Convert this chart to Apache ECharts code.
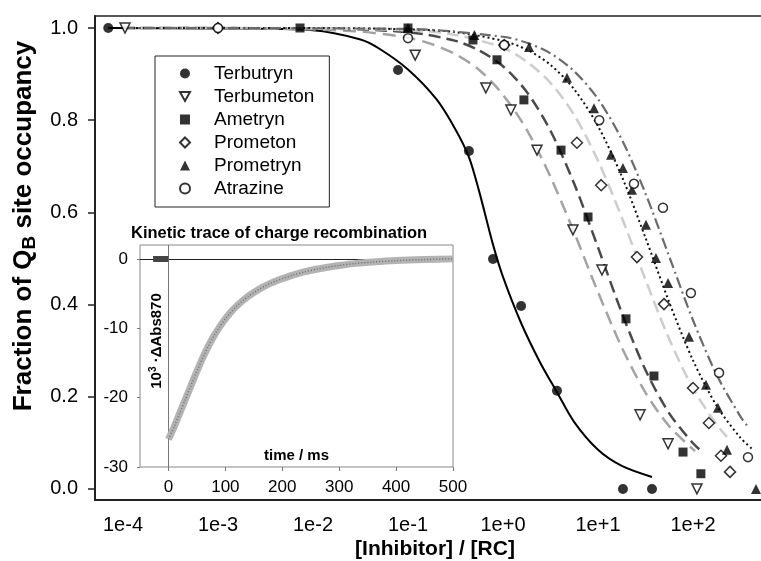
<!DOCTYPE html>
<html>
<head>
<meta charset="utf-8">
<script src="https://cdn.jsdelivr.net/npm/echarts@6/dist/echarts.min.js"></script>
<style>
  html, body { margin: 0; padding: 0; background: #fff; }
  #main { width: 761px; height: 561px; }
</style>
</head>
<body>
<div id="main"></div>
<script>
// measured points: [Inhibitor]/[RC] and fraction of QB site occupancy
var terbutrynConc = [7e-5, 0.0785, 0.438, 0.785, 1.55, 3.7, 18.3, 37];
var terbutrynFrac = [1.0, 0.909, 0.733, 0.499, 0.397, 0.213, 0.0, 0.0];
var terbumetonConc = [1.05e-4, 0.119, 0.66, 1.21, 2.28, 5.45, 11, 27.7, 54.6, 110];
var terbumetonFrac = [1.0, 0.941, 0.87, 0.822, 0.735, 0.562, 0.475, 0.161, 0.098, 0.0];
var ametrynConc = [7.3e-3, 0.1, 0.483, 0.865, 1.66, 4.08, 7.85, 19.7, 38.8, 78.5, 121];
var ametrynFrac = [1.0, 1.0, 0.974, 0.931, 0.844, 0.735, 0.59, 0.369, 0.245, 0.08, 0.033];
var prometonConc = [1e-3, 1.03, 6.0, 10.8, 25.7, 49.5, 100, 147, 197, 245];
var prometonFrac = [1.0, 0.963, 0.751, 0.659, 0.503, 0.401, 0.219, 0.143, 0.072, 0.037];
var prometrynConc = [0.1, 0.5, 1.88, 4.72, 9.08, 13.7, 18.3, 22.8, 32, 40.7, 54.6, 90.8, 137, 183, 228, 460];
var prometrynFrac = [1.0, 0.985, 0.959, 0.892, 0.826, 0.725, 0.696, 0.649, 0.573, 0.501, 0.447, 0.33, 0.226, 0.176, 0.085, 0.0];
var atrazineConc = [1e-3, 0.1, 1.03, 10.3, 23.9, 48.3, 95, 188, 379];
var atrazineFrac = [1.0, 0.978, 0.963, 0.80, 0.662, 0.61, 0.425, 0.252, 0.069];

// fitted curves
var terbutrynFitConc = [7e-5, 1e-3, 1e-2, 0.0316, 0.05, 0.1, 0.2, 0.316, 0.438, 0.562, 0.785, 1, 1.55, 2.45, 3.7, 5.62, 10, 17.8, 37];
var terbutrynFitFrac = [1.0, 0.999, 0.995, 0.975, 0.955, 0.91, 0.845, 0.78, 0.72, 0.645, 0.53, 0.46, 0.36, 0.275, 0.21, 0.145, 0.085, 0.05, 0.026];
var terbumetonFitConc = [1e-4, 1e-3, 1e-2, 0.0316, 0.1, 0.178, 0.316, 0.562, 1, 1.78, 3.16, 5.62, 10, 17.8, 31.6, 56.2, 105];
var terbumetonFitFrac = [1.0, 1.0, 0.997, 0.992, 0.979, 0.965, 0.943, 0.909, 0.855, 0.779, 0.677, 0.556, 0.427, 0.307, 0.209, 0.136, 0.082];
var ametrynFitConc = [1e-4, 1e-2, 0.1, 0.316, 0.562, 1, 1.78, 3.16, 5.62, 10, 17.8, 31.6, 56.2, 100, 118];
var ametrynFitFrac = [1.0, 0.999, 0.991, 0.972, 0.951, 0.917, 0.861, 0.777, 0.662, 0.524, 0.382, 0.258, 0.164, 0.099, 0.085];
var prometonFitConc = [1e-4, 1e-2, 0.1, 0.316, 1, 1.78, 3.16, 5.62, 10, 17.8, 31.6, 56.2, 100, 178, 228];
var prometonFitFrac = [1.0, 0.999, 0.995, 0.985, 0.957, 0.927, 0.881, 0.811, 0.712, 0.589, 0.454, 0.325, 0.218, 0.139, 0.113];
var prometrynFitConc = [1e-4, 1e-2, 0.1, 0.316, 1, 1.78, 3.16, 5.62, 10, 17.8, 31.6, 56.2, 100, 178, 316, 429];
var prometrynFitFrac = [1.0, 1.0, 0.997, 0.991, 0.972, 0.953, 0.920, 0.867, 0.787, 0.678, 0.545, 0.405, 0.279, 0.180, 0.111, 0.085];
var atrazineFitConc = [1e-4, 0.1, 1, 1.78, 3.16, 5.62, 10, 17.8, 31.6, 56.2, 100, 178, 316, 379];
var atrazineFitFrac = [1.0, 0.998, 0.981, 0.968, 0.945, 0.906, 0.846, 0.758, 0.641, 0.504, 0.366, 0.247, 0.157, 0.135];

// inset: kinetic trace (time in ms, 10^3 * dAbs870)
var preTime = [-27, -18, -9, 0];
var preValue = [0, 0, 0, 0];
var traceTime = [0, 10, 20, 30, 40, 50, 60, 70, 80, 90, 100, 110, 120, 130, 140, 150, 160, 170, 180, 190, 200, 220, 240, 260, 280, 300, 330, 360, 400, 450, 500];
var traceValue = [-26, -24.2, -22.2, -20.2, -18.2, -16.2, -14.3, -12.6, -11.1, -9.8, -8.65, -7.65, -6.8, -6.05, -5.4, -4.85, -4.35, -3.9, -3.5, -3.15, -2.85, -2.3, -1.85, -1.5, -1.2, -0.95, -0.65, -0.45, -0.25, -0.1, 0];

var xTicks = [1e-4, 1e-3, 1e-2, 1e-1, 1, 10, 100];
var yTicks = [0, 0.2, 0.4, 0.6, 0.8, 1.0];
var insetXTicks = [0, 100, 200, 300, 400, 500];
var insetYTicks = [-30, -20, -10, 0];

var FONT = 'Liberation Sans, Arial, sans-serif';
var DOWN_TRIANGLE = 'path://M0,0L10,0L5,9Z';

function zip(a, b) {
  var out = [];
  for (var i = 0; i < a.length; i++) out.push([a[i], b[i]]);
  return out;
}

function pointSeries(name, conc, frac, symbol, size, filled, rotate) {
  return {
    name: name,
    type: 'scatter',
    xAxisIndex: 0,
    yAxisIndex: 0,
    symbol: symbol,
    symbolSize: size,
    symbolRotate: rotate || 0,
    z: 5,
    itemStyle: filled
      ? { color: '#000', borderColor: '#000', borderWidth: 0 }
      : { color: '#fff', borderColor: '#000', borderWidth: 1.5 },
    data: zip(conc, frac)
  };
}

function fitSeries(name, conc, frac, color, type, width) {
  return {
    name: name,
    type: 'line',
    xAxisIndex: 0,
    yAxisIndex: 0,
    smooth: 0.3,
    showSymbol: false,
    z: 3,
    lineStyle: { color: color, type: type, width: width },
    data: zip(conc, frac)
  };
}

var chartDom = document.getElementById('main');
var myChart = echarts.init(chartDom);

var option = {
  animation: false,
  backgroundColor: '#fff',
  textStyle: { fontFamily: FONT },
  title: {
    text: 'Kinetic trace of charge recombination',
    left: 131,
    top: 225,
    padding: 0,
    textStyle: { fontFamily: FONT, fontSize: 16.5, fontWeight: 'bold', color: '#000' }
  },
  legend: {
    data: [
      { name: 'Terbutryn', icon: 'circle' },
      { name: 'Terbumeton', icon: DOWN_TRIANGLE },
      { name: 'Ametryn', icon: 'rect' },
      { name: 'Prometon', icon: 'diamond' },
      { name: 'Prometryn', icon: 'triangle' },
      { name: 'Atrazine', icon: 'circle' }
    ],
    orient: 'vertical',
    left: 155,
    top: 56,
    backgroundColor: '#fff',
    borderColor: '#222',
    borderWidth: 1,
    borderRadius: 0,
    padding: [8, 15, 9, 24],
    itemGap: 4,
    itemWidth: 10,
    itemHeight: 10,
    selectedMode: false,
    textStyle: { fontFamily: FONT, fontSize: 19, lineHeight: 19, color: '#000', padding: [0, 0, 0, 19] }
  },
  grid: [
    { left: 95, top: 16, right: -14, bottom: 61, outerBoundsMode: 'none', show: true, borderColor: '#222', borderWidth: 1.5 },
    { left: 140, top: 245, width: 313, height: 222, outerBoundsMode: 'none', show: true, backgroundColor: '#fff', borderColor: '#888', borderWidth: 1, z: 4 }
  ],
  xAxis: [
    {
      type: 'log',
      logBase: 10,
      gridIndex: 0,
      min: 5.074e-5,
      max: 729.5,
      name: '[Inhibitor] / [RC]',
      nameLocation: 'middle',
      nameGap: 39,
      nameMoveOverlap: false,
      nameTextStyle: { fontFamily: FONT, fontSize: 21, fontWeight: 'bold', color: '#000' },
      axisLine: { show: true, onZero: false, lineStyle: { color: '#222', width: 2 } },
      axisTick: { show: false },
      splitLine: { show: false },
      axisLabel: {
        customValues: xTicks,
        fontSize: 20,
        color: '#000',
        margin: 15,
        formatter: function (v) {
          var e = Math.round(Math.log10(v));
          return '1e' + (e >= 0 ? '+' : '-') + Math.abs(e);
        }
      }
    },
    {
      type: 'value',
      gridIndex: 1,
      min: -50,
      max: 500,
      z: 8,
      name: 'time / ms',
      nameLocation: 'middle',
      nameGap: -19,
      nameMoveOverlap: false,
      nameTextStyle: { fontFamily: FONT, fontSize: 15, fontWeight: 'bold', color: '#000' },
      axisLine: { show: false, onZero: false },
      axisTick: { show: true, customValues: insetXTicks, length: 4, lineStyle: { color: '#777' } },
      splitLine: { show: false },
      axisLabel: { customValues: insetXTicks, fontSize: 17, color: '#000', margin: 12 }
    }
  ],
  yAxis: [
    {
      type: 'value',
      gridIndex: 0,
      min: -0.024,
      max: 1.026,
      axisLine: { show: true, onZero: false, lineStyle: { color: '#222', width: 2 } },
      axisTick: { show: true, customValues: yTicks, length: 7, lineStyle: { color: '#222', width: 1.5 } },
      splitLine: { show: false },
      axisLabel: {
        customValues: yTicks,
        fontSize: 20,
        color: '#000',
        margin: 17,
        formatter: function (v) { return v.toFixed(1); }
      }
    },
    {
      type: 'value',
      gridIndex: 1,
      min: -30,
      max: 2,
      z: 8,
      axisLine: { show: false, onZero: false },
      axisTick: { show: true, customValues: insetYTicks, length: 3, lineStyle: { color: '#777' } },
      splitLine: { show: false },
      axisLabel: { customValues: insetYTicks, fontSize: 17, color: '#000', margin: 12 }
    }
  ],
  graphic: [
    {
      type: 'text',
      x: 24,
      y: 226,
      rotation: Math.PI / 2,
      style: {
        text: 'Fraction of Q{sub|B} site occupancy',
        font: 'bold 26px ' + FONT,
        fill: '#000',
        align: 'center',
        verticalAlign: 'middle',
        rich: {
          sub: { font: 'bold 19px ' + FONT, fill: '#000', padding: [12, 0, 0, 0] }
        }
      }
    },
    {
      type: 'text',
      x: 157,
      y: 341,
      rotation: Math.PI / 2,
      z: 100,
      style: {
        text: '10{sup|3} \u00b7\u0394Abs870',
        font: 'bold 15px ' + FONT,
        fill: '#000',
        align: 'center',
        verticalAlign: 'middle',
        rich: {
          sup: { font: 'bold 10px ' + FONT, fill: '#000', padding: [0, 0, 8, 0] }
        }
      }
    }
  ],
  series: [
    fitSeries('Terbutryn fit', terbutrynFitConc, terbutrynFitFrac, '#000', 'solid', 2),
    fitSeries('Terbumeton fit', terbumetonFitConc, terbumetonFitFrac, '#a3a3a3', [13, 7], 2.5),
    fitSeries('Ametryn fit', ametrynFitConc, ametrynFitFrac, '#4a4a4a', [12, 6], 2.5),
    fitSeries('Prometon fit', prometonFitConc, prometonFitFrac, '#cdcdcd', [12, 6], 2.5),
    fitSeries('Prometryn fit', prometrynFitConc, prometrynFitFrac, '#111', [2, 3], 2),
    fitSeries('Atrazine fit', atrazineFitConc, atrazineFitFrac, '#6b6b6b', [11, 4, 2, 4], 2.2),
    pointSeries('Terbutryn', terbutrynConc, terbutrynFrac, 'circle', 10, true),
    pointSeries('Terbumeton', terbumetonConc, terbumetonFrac, 'triangle', 10, false, 180),
    pointSeries('Ametryn', ametrynConc, ametrynFrac, 'rect', 9, true),
    pointSeries('Prometon', prometonConc, prometonFrac, 'diamond', 11, false),
    pointSeries('Prometryn', prometrynConc, prometrynFrac, 'triangle', 10, true),
    pointSeries('Atrazine', atrazineConc, atrazineFrac, 'circle', 9, false),
    {
      name: 'pre-trigger',
      type: 'line',
      xAxisIndex: 1,
      yAxisIndex: 1,
      showSymbol: false,
      z: 6,
      lineStyle: { color: '#444', width: 6 },
      data: zip(preTime, preValue)
    },
    {
      name: 'trace',
      type: 'line',
      xAxisIndex: 1,
      yAxisIndex: 1,
      smooth: 0.3,
      showSymbol: false,
      z: 6,
      lineStyle: { color: '#b3b3b3', width: 7 },
      markLine: {
        silent: true,
        symbol: 'none',
        label: { show: false },
        data: [
          { yAxis: 0, lineStyle: { color: '#222', width: 1, type: 'solid' } },
          { xAxis: 0, lineStyle: { color: '#777', width: 1, type: 'solid' } }
        ]
      },
      data: zip(traceTime, traceValue)
    },
    {
      name: 'trace noise',
      type: 'line',
      xAxisIndex: 1,
      yAxisIndex: 1,
      smooth: 0.3,
      showSymbol: false,
      z: 7,
      lineStyle: { color: '#6f6f6f', width: 1.5, type: [1, 2] },
      data: zip(traceTime, traceValue)
    }
  ]
};

option && myChart.setOption(option);
</script>
</body>
</html>
